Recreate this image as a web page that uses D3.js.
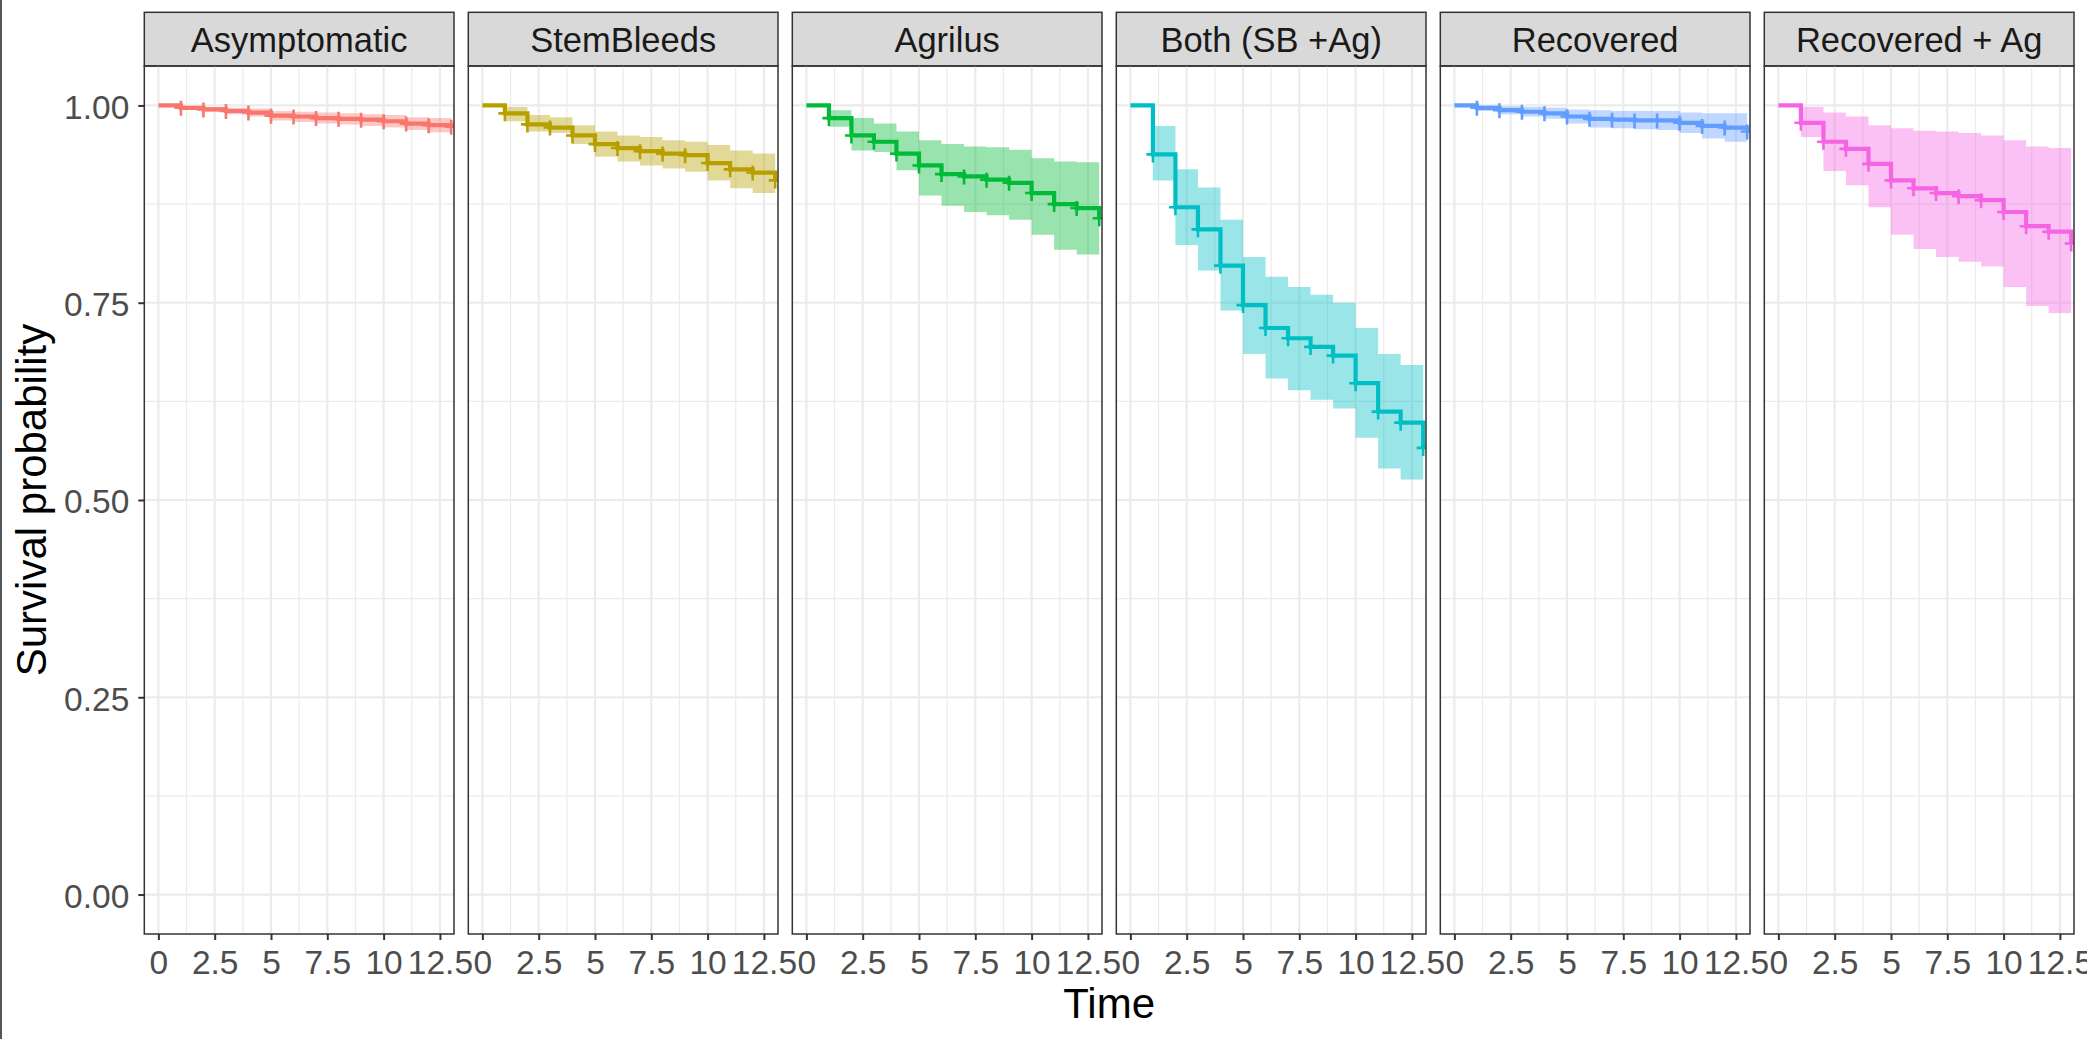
<!DOCTYPE html>
<html>
<head>
<meta charset="utf-8">
<script src="https://cdn.jsdelivr.net/npm/d3@7"></script>
<style>
  body { margin: 0; background: #fff; }
  svg { display: block; font-family: "Liberation Sans", Arial, sans-serif; }
</style>
</head>
<body>
<div class="chart"></div>
<script>
// Facet labels and colours (ggplot hue palette).
const groups = ["Asymptomatic", "StemBleeds", "Agrilus", "Both (SB +Ag)", "Recovered", "Recovered + Ag"];
const colors = ["#F8766D", "#B79F00", "#00BA38", "#00BFC4", "#619CFF", "#F564E3"];

// Step times (survival after each time), and censor marks.
const times = [0, 1, 2, 3, 4, 5, 6, 7, 8, 9, 10, 11, 12, 13];
const censorTimes = [1, 2, 3, 4, 5, 6, 7, 8, 9, 10, 11, 12, 13];

// Survival estimate and confidence bands, one value per step time.
const asymSurv  = [1, 0.997, 0.995, 0.993, 0.991, 0.987, 0.986, 0.984, 0.983, 0.982, 0.980, 0.977, 0.975, 0.973];
const asymUpper = [1, 0.999, 0.998, 0.997, 0.996, 0.993, 0.992, 0.991, 0.990, 0.989, 0.988, 0.985, 0.984, 0.982];
const asymLower = [1, 0.995, 0.992, 0.989, 0.986, 0.981, 0.979, 0.977, 0.976, 0.974, 0.972, 0.969, 0.966, 0.963];

const sbSurv  = [1, 0.990, 0.976, 0.972, 0.962, 0.951, 0.946, 0.942, 0.939, 0.937, 0.927, 0.919, 0.915, 0.905];
const sbUpper = [1, 0.998, 0.988, 0.985, 0.975, 0.967, 0.962, 0.960, 0.956, 0.954, 0.950, 0.943, 0.939, 0.930];
const sbLower = [1, 0.980, 0.967, 0.965, 0.951, 0.935, 0.929, 0.924, 0.920, 0.916, 0.905, 0.895, 0.889, 0.878];

const agSurv  = [1, 0.984, 0.962, 0.954, 0.939, 0.924, 0.913, 0.910, 0.906, 0.902, 0.889, 0.875, 0.870, 0.857];
const agUpper = [1, 0.994, 0.984, 0.977, 0.967, 0.956, 0.951, 0.948, 0.947, 0.944, 0.933, 0.929, 0.928, 0.920];
const agLower = [1, 0.973, 0.943, 0.941, 0.918, 0.886, 0.873, 0.865, 0.861, 0.855, 0.836, 0.817, 0.811, 0.795];

const bothSurv  = [1, 0.938, 0.871, 0.843, 0.797, 0.747, 0.718, 0.705, 0.694, 0.683, 0.648, 0.612, 0.598, 0.566];
const bothUpper = [1, 0.974, 0.919, 0.896, 0.855, 0.808, 0.783, 0.770, 0.760, 0.750, 0.718, 0.685, 0.671, 0.640];
const bothLower = [1, 0.905, 0.823, 0.791, 0.740, 0.685, 0.654, 0.639, 0.627, 0.616, 0.579, 0.540, 0.526, 0.490];

const recSurv  = [1, 0.997, 0.994, 0.992, 0.990, 0.986, 0.983, 0.982, 0.981, 0.981, 0.978, 0.974, 0.972, 0.967];
const recUpper = [1, 1.000, 0.999, 0.998, 0.997, 0.995, 0.994, 0.993, 0.993, 0.993, 0.991, 0.990, 0.990, 0.988];
const recLower = [1, 0.993, 0.989, 0.986, 0.983, 0.977, 0.972, 0.971, 0.970, 0.969, 0.965, 0.958, 0.954, 0.946];

const recAgSurv  = [1, 0.978, 0.954, 0.945, 0.926, 0.905, 0.895, 0.889, 0.885, 0.880, 0.865, 0.847, 0.840, 0.825];
const recAgUpper = [1, 0.998, 0.991, 0.986, 0.975, 0.971, 0.968, 0.967, 0.965, 0.962, 0.956, 0.948, 0.946, 0.940];
const recAgLower = [1, 0.960, 0.917, 0.899, 0.871, 0.836, 0.818, 0.808, 0.802, 0.796, 0.770, 0.746, 0.737, 0.720];

// Axis ticks.
const xTicks = [0, 2.5, 5, 7.5, 10, 12.5];
const xMinor = [1.25, 3.75, 6.25, 8.75, 11.25];
const yTicks = [0, 0.25, 0.5, 0.75, 1];
const yMinor = [0.125, 0.375, 0.625, 0.875];

const panels = groups.map((g, i) => ({
    name: g,
    color: colors[i],
    surv: [asymSurv, sbSurv, agSurv, bothSurv, recSurv, recAgSurv][i],
    upper: [asymUpper, sbUpper, agUpper, bothUpper, recUpper, recAgUpper][i],
    lower: [asymLower, sbLower, agLower, bothLower, recLower, recAgLower][i]
}));

// Dimensions.
const W = 2087, H = 1039;
const panelLeft = 144.3, panelW = 309.7, panelGap = 14.3;
const stripTop = 12.3, panelTop = 66, panelBottom = 934;
const panelH = panelBottom - panelTop;

const svg = d3.select('.chart')
    .append('svg')
        .attr('width', W)
        .attr('height', H);

svg.append('rect').attr('width', W).attr('height', H).attr('fill', '#fff');

// Left frame line seen in the picture.
svg.append('line')
    .attr('x1', 1).attr('x2', 1).attr('y1', 0).attr('y2', H)
    .attr('stroke', '#555').attr('stroke-width', 2);

// Scales.
const x = d3.scaleLinear().domain([-0.625, 13.125]).range([0, panelW]);
const y = d3.scaleLinear().domain([-0.05, 1.05]).range([panelH, 0]);

const defs = svg.append('defs');
defs.append('clipPath').attr('id', 'clip')
    .append('rect').attr('width', panelW).attr('height', panelH);

const line = d3.line()
    .x(d => x(d[0]))
    .y(d => y(d[1]))
    .curve(d3.curveStepAfter);

const band = d3.area()
    .x(d => x(d[0]))
    .y0(d => y(d[1]))
    .y1(d => y(d[2]))
    .curve(d3.curveStepAfter);

panels.forEach((p, i) => {
    const px = panelLeft + i * (panelW + panelGap);

    // Strip.
    svg.append('rect')
        .attr('x', px).attr('y', stripTop)
        .attr('width', panelW).attr('height', panelTop - stripTop)
        .attr('fill', '#D9D9D9')
        .attr('stroke', '#333').attr('stroke-width', 1.5);
    svg.append('text')
        .attr('x', px + panelW / 2).attr('y', 51.5)
        .attr('text-anchor', 'middle')
        .attr('font-size', 34.5)
        .attr('fill', '#1A1A1A')
        .text(p.name);

    const g = svg.append('g').attr('transform', `translate(${px},${panelTop})`);

    // Grid.
    g.selectAll('.xminor').data(xMinor).join('line')
        .attr('x1', d => x(d)).attr('x2', d => x(d))
        .attr('y1', 0).attr('y2', panelH)
        .attr('stroke', '#EBEBEB').attr('stroke-width', 1.2);
    g.selectAll('.yminor').data(yMinor).join('line')
        .attr('y1', d => y(d)).attr('y2', d => y(d))
        .attr('x1', 0).attr('x2', panelW)
        .attr('stroke', '#EBEBEB').attr('stroke-width', 1.2);
    g.selectAll('.xmajor').data(xTicks).join('line')
        .attr('x1', d => x(d)).attr('x2', d => x(d))
        .attr('y1', 0).attr('y2', panelH)
        .attr('stroke', '#EBEBEB').attr('stroke-width', 2.2);
    g.selectAll('.ymajor').data(yTicks).join('line')
        .attr('y1', d => y(d)).attr('y2', d => y(d))
        .attr('x1', 0).attr('x2', panelW)
        .attr('stroke', '#EBEBEB').attr('stroke-width', 2.2);

    // Data layers, clipped to the panel.
    const plot = g.append('g').attr('clip-path', 'url(#clip)');

    const n = times.length;
    const steps = times.map((t, k) => [t, p.surv[k]]);
    // Band runs to the last event time, using the previous interval's limits.
    const ci = times.slice(0, n - 1).map((t, k) => [t, p.lower[k], p.upper[k]]);
    ci.push([times[n - 1], p.lower[n - 2], p.upper[n - 2]]);

    plot.append('path')
        .datum(ci)
        .attr('d', band)
        .attr('fill', p.color)
        .attr('fill-opacity', 0.4);

    plot.append('path')
        .datum(steps)
        .attr('d', line)
        .attr('fill', 'none')
        .attr('stroke', p.color)
        .attr('stroke-width', 4.2);

    plot.selectAll('.censor')
        .data(censorTimes)
        .join('path')
            .attr('transform', t => `translate(${x(t)},${y(p.surv[times.indexOf(t)])})`)
            .attr('d', 'M-6.5,0H6.5M0,-7V8')
            .attr('stroke', p.color)
            .attr('stroke-width', 2.6);

    // Panel border.
    g.append('rect')
        .attr('width', panelW).attr('height', panelH)
        .attr('fill', 'none')
        .attr('stroke', '#333').attr('stroke-width', 1.5);

    // X axis.
    const xAxis = g.append('g')
        .attr('transform', `translate(0,${panelH})`)
        .call(d3.axisBottom(x).tickValues(xTicks).tickSize(6).tickPadding(6)
            .tickFormat(d => d3.format('')(d)));
    xAxis.select('.domain').remove();
    xAxis.selectAll('.tick line').attr('stroke', '#333').attr('stroke-width', 2);
    xAxis.selectAll('.tick text')
        .attr('font-size', 33.5)
        .attr('fill', '#4D4D4D')
        .attr('font-family', '"Liberation Sans", Arial, sans-serif')
        .attr('dy', null).attr('y', 39.5);

    // Y axis on the first panel only.
    if (i === 0) {
        const yAxis = g.append('g')
            .call(d3.axisLeft(y).tickValues(yTicks).tickSize(6).tickPadding(9)
                .tickFormat(d3.format('.2f')));
        yAxis.select('.domain').remove();
        yAxis.selectAll('.tick line').attr('stroke', '#333').attr('stroke-width', 2);
        yAxis.selectAll('.tick text')
            .attr('font-size', 33.5)
            .attr('fill', '#4D4D4D')
            .attr('font-family', '"Liberation Sans", Arial, sans-serif')
            .attr('dy', '0.38em');
    }
});

// Axis titles.
svg.append('text')
    .attr('x', (panelLeft + panelLeft + 6 * panelW + 5 * panelGap) / 2)
    .attr('y', 1018)
    .attr('text-anchor', 'middle')
    .attr('font-size', 42)
    .attr('fill', '#000')
    .text('Time');

svg.append('text')
    .attr('transform', `translate(46,${panelTop + panelH / 2}) rotate(-90)`)
    .attr('text-anchor', 'middle')
    .attr('font-size', 42)
    .attr('fill', '#000')
    .text('Survival probability');
</script>
</body>
</html>
